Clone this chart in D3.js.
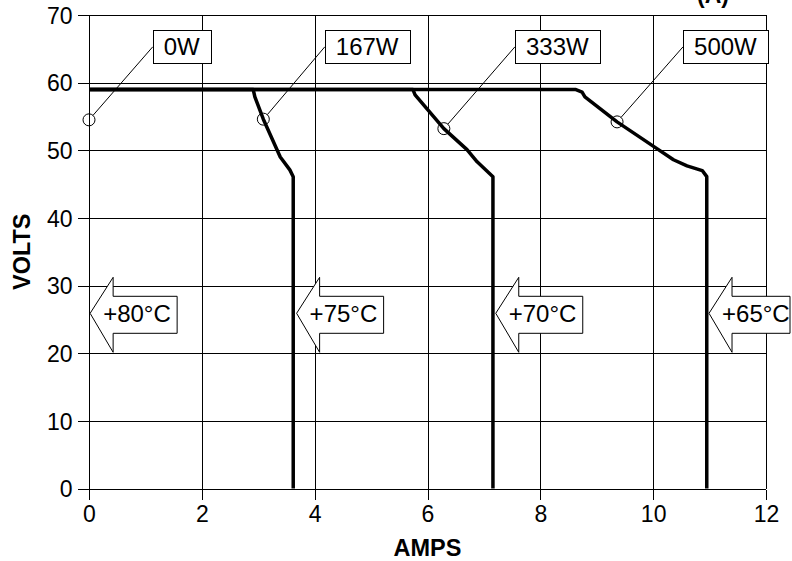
<!DOCTYPE html>
<html><head><meta charset="utf-8">
<script src="https://cdn.jsdelivr.net/npm/d3@7"></script>
<style>
html,body{margin:0;padding:0;background:#fff;}
svg text{font-family:"Liberation Sans",Arial,sans-serif;}
</style></head>
<body>
<svg id="c" width="792" height="561"></svg>
<script>
const xTicks = [0, 2, 4, 6, 8, 10, 12];
const yTicks = [0, 10, 20, 30, 40, 50, 60, 70];

const curve167 = [[0,59],[2.91,59],[2.94,57.9],[3.09,54.6],[3.39,49.0],[3.56,47.1],[3.62,46.1],[3.62,0]];
const curve333 = [[0,59],[5.74,59],[5.78,58.2],[6.29,53.2],[6.70,50.1],[6.88,48.3],[7.16,46.1],[7.16,0]];
const curve500 = [[0,59],[8.62,59],[8.74,58.6],[8.79,57.9],[9.36,54.2],[10.04,50.4],[10.36,48.6],[10.6,47.7],[10.87,47.0],[10.95,46.1],[10.95,0]];

const powerLabels = ["0W", "167W", "333W", "500W"];
const markerAmps = [0, 3.09, 6.29, 9.36];
const markerVolts = [54.5, 54.6, 53.2, 54.2];
const labelAmps = [1.13, 4.18, 7.55, 10.53];
const labelVolts = 65.3;

const tempLabels = ["+80°C", "+75°C", "+70°C", "+65°C"];
const tempAmps = [0.02, 3.68, 7.21, 10.99];
const tempVolts = 25.9;

const svg = d3.select("#c");
const L = 89, R = 766, T = 15, B = 488.5;
const x = d3.scaleLinear().domain([0, 12]).range([L, R]);
const y = d3.scaleLinear().domain([0, 70]).range([B, T]);
const FONT = "Liberation Sans, Arial, sans-serif";

// grid
const g = svg.append("g").attr("shape-rendering", "crispEdges");
g.selectAll(".vg").data(xTicks).enter().append("line")
  .attr("x1", d => Math.round(x(d)) + 0.5).attr("x2", d => Math.round(x(d)) + 0.5)
  .attr("y1", T).attr("y2", B).attr("stroke", "#000").attr("stroke-width", 1);
g.selectAll(".hg").data(yTicks).enter().append("line")
  .attr("y1", d => Math.round(y(d)) + 0.5).attr("y2", d => Math.round(y(d)) + 0.5)
  .attr("x1", L).attr("x2", R).attr("stroke", "#000").attr("stroke-width", 1);

// axes
const xAxis = d3.axisBottom(x).tickValues(xTicks).tickSize(10).tickPadding(6).tickFormat(d3.format("d"));
const yAxis = d3.axisLeft(y).tickValues(yTicks).tickSize(12).tickPadding(5).tickFormat(d3.format("d"));
const gx = svg.append("g").attr("transform", `translate(0,${Math.round(B)+0.5})`).call(xAxis);
const gy = svg.append("g").attr("transform", `translate(${L+0.5},0)`).call(yAxis);
[gx, gy].forEach(a => {
  a.attr("font-size", 23).attr("font-family", FONT);
  a.select(".domain").remove();
  a.selectAll("line").attr("stroke", "#000").attr("shape-rendering", "crispEdges");
  a.selectAll("text").attr("fill", "#000").style("font-size", "23px");
});
gy.selectAll("text").attr("dy", "0.36em");

// axis titles
svg.append("text").attr("x", x(6)).attr("y", 556).attr("text-anchor", "middle")
  .attr("font-size", 23.5).attr("font-weight", "bold").text("AMPS");
svg.append("text").attr("transform", `translate(30,${y(35)}) rotate(-90)`)
  .attr("text-anchor", "middle").attr("font-size", 23.5).attr("font-weight", "bold").text("VOLTS");

// clipped top text
svg.append("text").attr("x", 697).attr("y", 3).attr("font-size", 23)
  .attr("font-weight", "bold").text("(A)");

// curves
const line = d3.line().x(d => x(d[0])).y(d => y(d[1]));
[curve167, curve333, curve500].forEach(c => {
  svg.append("path").attr("d", line(c)).attr("fill", "none")
    .attr("stroke", "#000").attr("stroke-width", 3.5).attr("stroke-linejoin", "round");
});

// power labels
powerLabels.forEach((lab, i) => {
  const cx = x(markerAmps[i]), cy = y(markerVolts[i]);
  const bx = x(labelAmps[i]), by = y(labelVolts);
  const lg = svg.append("g");
  const rect = lg.append("rect");
  const t = lg.append("text").attr("x", bx + 11).attr("y", by + 8.5)
    .attr("font-size", 24).text(lab);
  const w = t.node().getComputedTextLength();
  rect.attr("x", Math.round(bx) + 0.5).attr("y", Math.round(by - 16.5) + 0.5)
    .attr("width", Math.round(w + 22)).attr("height", 33)
    .attr("fill", "#fff").attr("stroke", "#000").attr("stroke-width", 1);
  svg.append("line").attr("x1", cx + 4).attr("y1", cy - 4.5).attr("x2", bx).attr("y2", by)
    .attr("stroke", "#000").attr("stroke-width", 1);
  svg.append("circle").attr("cx", cx).attr("cy", cy).attr("r", 6)
    .attr("fill", "none").attr("stroke", "#000").attr("stroke-width", 1);
});

// temperature arrows
tempLabels.forEach((lab, i) => {
  const tx = x(tempAmps[i]), ty = y(tempVolts);
  const hx = tx + 23, rx = Math.min(tx + 87, 790);
  const pts = [[tx, ty], [hx, ty - 36], [hx, ty - 17], [rx, ty - 17], [rx, ty + 20], [hx, ty + 20], [hx, ty + 39]];
  svg.append("path").attr("d", "M" + pts.map(p => p.join(",")).join("L") + "Z")
    .attr("fill", "#fff").attr("stroke", "#000").attr("stroke-width", 1);
  svg.append("text").attr("x", tx + 13).attr("y", ty + 8.5).attr("font-size", 24).text(lab);
});
</script>
</body></html>
